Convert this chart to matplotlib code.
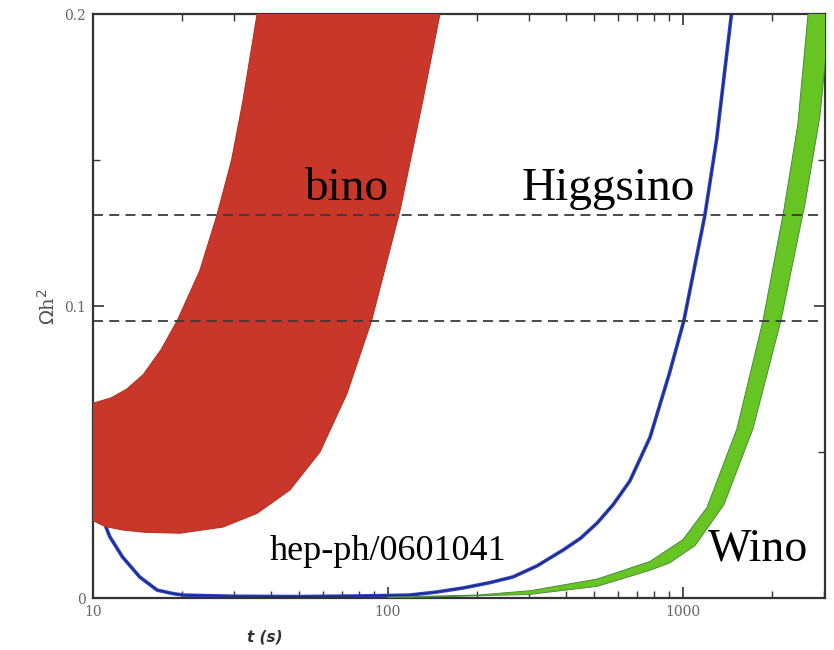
import numpy as np
import matplotlib
matplotlib.use("Agg")
import matplotlib.pyplot as plt
from matplotlib.ticker import FixedLocator, NullFormatter, FixedFormatter

# ---------------- data ----------------
# Bino band: upper (left) edge and lower (right) edge
bino_upper_t = [10, 11.5, 13, 14.8, 17, 19.3, 23, 26.3, 29.5, 32.2, 36, 38]
bino_upper = [0.0667, 0.0685, 0.0715, 0.0765, 0.085, 0.095, 0.112, 0.131, 0.150, 0.170,
              0.200, 0.21]
bino_lower_t = [10, 11, 12.6, 15, 19.7, 27.6, 36, 46.5, 58.8, 72.6, 88, 110, 131, 150, 157]
bino_lower = [0.0265, 0.0245, 0.0233, 0.0225, 0.0222, 0.0243, 0.029, 0.037, 0.050, 0.070,
              0.095, 0.133, 0.170, 0.200, 0.21]

# Higgsino (thin band)
higgsino_t = [10, 10.8, 11.4, 12.6, 14.4, 16.5, 18.7, 20.2, 30, 50, 80, 118, 145, 179, 220,
              265, 320, 392, 450, 512, 580, 660, 773, 900, 1007, 1186, 1300, 1460, 1500]
higgsino = [0.035, 0.027, 0.021, 0.014, 0.0072, 0.0027, 0.0015, 0.001, 0.0006, 0.0005,
            0.0007, 0.001, 0.002, 0.0034, 0.0052, 0.0072, 0.011, 0.0164, 0.0205, 0.0257,
            0.032, 0.040, 0.055, 0.077, 0.095, 0.131, 0.157, 0.200, 0.21]

# Wino band: upper (left) edge and lower (right) edge
wino_upper_t = [100, 200, 304, 512, 773, 1000, 1206, 1524, 1867, 2199, 2450, 2654, 2750]
wino_upper = [0.0003, 0.001, 0.0025, 0.0065, 0.0125, 0.020, 0.031, 0.058, 0.095, 0.133,
              0.162, 0.200, 0.21]
wino_lower_t = [100, 300, 512, 773, 900, 1100, 1377, 1727, 2148, 2592, 2912, 3150, 3300]
wino_lower = [0.0, 0.0012, 0.004, 0.0095, 0.012, 0.018, 0.032, 0.058, 0.095, 0.135, 0.165,
              0.200, 0.21]

wmap_bounds = [0.095, 0.131]

x_major = [10, 100, 1000]
x_major_labels = ["10", "100", "1000"]
x_minor = [20, 30, 40, 50, 60, 70, 80, 90, 200, 300, 400, 500, 600, 700, 800, 900, 2000, 3000]
y_major = [0, 0.1, 0.2]
y_major_labels = ["0", "0.1", "0.2"]
y_minor = [0.05, 0.15]

labels = ["bino", "Higgsino", "Wino"]
ref_text = "hep-ph/0601041"

# ---------------- figure ----------------
W, H = 834, 650
fig = plt.figure(figsize=(W / 100, H / 100), dpi=100)
ax = fig.add_axes([93 / W, 52 / H, 732 / W, 584 / H])
ax.set_xscale("log")
ax.set_xlim(10, 3030)
ax.set_ylim(0, 0.2)

red = "#c8372a"
green = "#66c522"
blue = "#2c44c4"

# higgsino band (thin) - beneath the bino band
ax.plot(higgsino_t, higgsino, color=blue, lw=2.6, solid_capstyle="butt", zorder=2)
ax.plot(higgsino_t, higgsino, color="#1a2272", lw=0.7, zorder=2)

# bino band
bx = np.concatenate([bino_upper_t, bino_lower_t[::-1]])
by = np.concatenate([bino_upper, bino_lower[::-1]])
ax.fill(bx, by, color=red, lw=0.8, ec="#b83022", zorder=3)

# wino band
wx = np.concatenate([wino_upper_t, wino_lower_t[::-1]])
wy = np.concatenate([wino_upper, wino_lower[::-1]])
ax.fill(wx, wy, color=green, lw=0.7, ec="#4a8a3a", zorder=3)

# dashed WMAP bounds
for yv in wmap_bounds:
    ax.axhline(yv, color="#3a3a3a", lw=1.3, ls=(0, (5.5, 3.5)), zorder=4)

# ticks
ax.xaxis.set_major_locator(FixedLocator(x_major))
ax.xaxis.set_major_formatter(FixedFormatter(x_major_labels))
ax.xaxis.set_minor_locator(FixedLocator(x_minor))
ax.xaxis.set_minor_formatter(NullFormatter())
ax.yaxis.set_major_locator(FixedLocator(y_major))
ax.yaxis.set_major_formatter(FixedFormatter(y_major_labels))
ax.yaxis.set_minor_locator(FixedLocator(y_minor))
ax.tick_params(which="both", direction="in", top=True, right=True, colors="#333333",
               labelcolor="#666666", labelsize=10)
ax.tick_params(which="major", length=8, width=1.2, pad=5)
ax.tick_params(which="minor", length=5, width=1.0)
for lab in ax.get_xticklabels() + ax.get_yticklabels():
    lab.set_family("DejaVu Serif")
for s in ax.spines.values():
    s.set_color("#333333")
    s.set_linewidth(1.6)

# axis labels
fig.text(48 / W, 1 - 307 / H, r"$\Omega$h$^2$", rotation=90, ha="center", va="center",
         fontsize=14, color="#555555", family="DejaVu Serif")
fig.text(265 / W, 1 - 637 / H, "t (s)", ha="center", va="center", fontsize=11,
         fontweight="bold", color="#333333", style="italic")

# annotations
serif = "Liberation Serif"
ax.text(0.3456, 0.6815, labels[0], transform=ax.transAxes, ha="center", va="baseline",
        fontsize=34, family=serif, color="black", zorder=5)
ax.text(0.586, 0.6815, labels[1], transform=ax.transAxes, ha="left", va="baseline",
        fontsize=34, family=serif, color="black", zorder=5)
ax.text(0.840, 0.065, labels[2], transform=ax.transAxes, ha="left", va="baseline",
        fontsize=33, family=serif, color="black", zorder=5)
ax.text(0.2418, 0.065, ref_text, transform=ax.transAxes, ha="left", va="baseline",
        fontsize=26, family=serif, color="black", zorder=5)

fig.savefig("out.png", dpi=100)
